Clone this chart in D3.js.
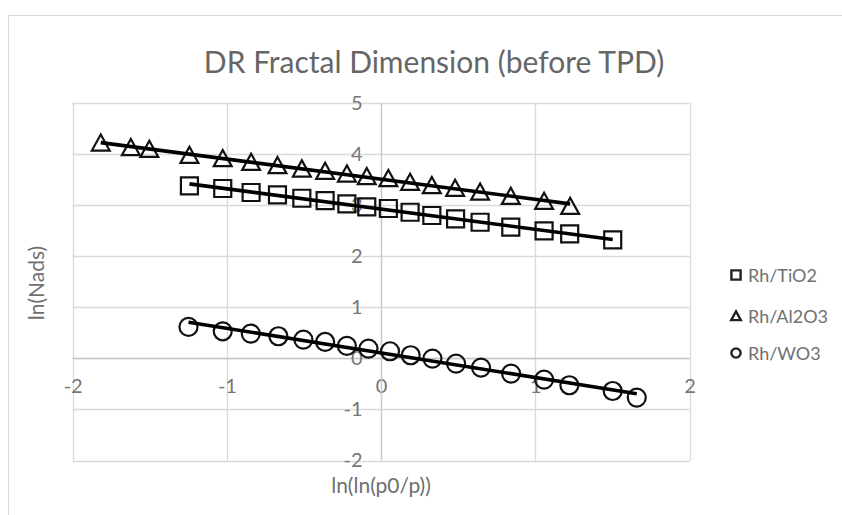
<!DOCTYPE html>
<html>
<head>
<meta charset="utf-8">
<script src="https://cdn.jsdelivr.net/npm/d3@7/dist/d3.min.js"></script>
<style>
  html, body { margin: 0; padding: 0; background: #fff; }
  svg { display: block; }
  text { font-family: Lato, "Open Sans", "Noto Sans", sans-serif; }
</style>
</head>
<body>
<script>
// ln(ln(p0/p)) vs ln(Nads) for each catalyst
const tio2X = [-1.243, -1.027, -0.843, -0.672, -0.514, -0.363, -0.222, -0.093, 0.047, 0.188, 0.329, 0.483, 0.642, 0.841, 1.057, 1.223, 1.502];
const tio2Y = [3.372, 3.321, 3.243, 3.196, 3.131, 3.086, 3.020, 2.961, 2.930, 2.857, 2.793, 2.726, 2.661, 2.564, 2.491, 2.432, 2.315];

const al2o3X = [-1.818, -1.623, -1.503, -1.243, -1.027, -0.843, -0.672, -0.514, -0.363, -0.222, -0.093, 0.047, 0.188, 0.329, 0.480, 0.642, 0.841, 1.057, 1.226];
const al2o3Y = [4.213, 4.123, 4.090, 3.973, 3.908, 3.836, 3.771, 3.705, 3.659, 3.607, 3.556, 3.517, 3.444, 3.380, 3.327, 3.254, 3.170, 3.072, 2.975];

const wo3X = [-1.249, -1.027, -0.845, -0.666, -0.504, -0.363, -0.222, -0.082, 0.058, 0.192, 0.333, 0.486, 0.648, 0.843, 1.057, 1.221, 1.502, 1.658];
const wo3Y = [0.613, 0.528, 0.483, 0.431, 0.366, 0.319, 0.241, 0.190, 0.137, 0.059, -0.006, -0.104, -0.182, -0.299, -0.417, -0.528, -0.640, -0.769];

const seriesNames = ["Rh/TiO2", "Rh/Al2O3", "Rh/WO3"];
const seriesShapes = ["square", "triangle", "circle"];
const xTicks = [-2, -1, 0, 1, 2];
const yTicks = [-2, -1, 0, 1, 2, 3, 4, 5];

const chartTitle = "DR Fractal Dimension (before TPD)";
const xTitle = "ln(ln(p0/p))";
const yTitle = "ln(Nads)";

const series = [
  { name: seriesNames[0], shape: seriesShapes[0], xs: tio2X, ys: tio2Y },
  { name: seriesNames[1], shape: seriesShapes[1], xs: al2o3X, ys: al2o3Y },
  { name: seriesNames[2], shape: seriesShapes[2], xs: wo3X, ys: wo3Y }
];

const W = 842, H = 515;
const svg = d3.select("body").append("svg").attr("width", W).attr("height", H);

// chart frame
svg.append("rect").attr("x", 8.5).attr("y", 15.5).attr("width", W).attr("height", H)
  .attr("fill", "#fff").attr("stroke", "#d9d9d9").attr("stroke-width", 1);

const x = d3.scaleLinear().domain([-2, 2]).range([72.7, 689.5]);
const y = d3.scaleLinear().domain([-2, 5]).range([460.5, 102.7]);

// gridlines
const grid = svg.append("g");
grid.selectAll("line.v").data(xTicks).join("line")
  .attr("x1", d => Math.round(x(d)) + 0.5).attr("x2", d => Math.round(x(d)) + 0.5)
  .attr("y1", y(5)).attr("y2", y(-2))
  .attr("stroke", "#d9d9d9").attr("stroke-width", 1.3);
grid.selectAll("line.h").data(yTicks).join("line")
  .attr("x1", x(-2)).attr("x2", x(2))
  .attr("y1", d => Math.round(y(d)) + 0.5).attr("y2", d => Math.round(y(d)) + 0.5)
  .attr("stroke", "#d9d9d9").attr("stroke-width", 1.3);

// axes crossing at the origin
const fmt = d => String(d);
const xAxis = svg.append("g")
  .attr("transform", `translate(0,${Math.round(y(0)) + 0.5})`)
  .call(d3.axisBottom(x).tickValues(xTicks).tickSize(0).tickPadding(20).tickFormat(fmt));
const yAxis = svg.append("g")
  .attr("transform", `translate(${Math.round(x(0)) + 0.5},0)`)
  .call(d3.axisLeft(y).tickValues(yTicks).tickSize(0).tickPadding(19).tickFormat(fmt));
[xAxis, yAxis].forEach(a => {
  a.select(".domain").attr("stroke", "#c8c8c8").attr("stroke-width", 1.3);
  a.selectAll("text").attr("fill", "#767676").style("font-size", "20px")
    .style("font-family", "Lato, 'Open Sans', sans-serif");
});
xAxis.select(".domain").attr("d", `M${x(-2)},0H${x(2)}`);
yAxis.select(".domain").attr("d", `M0,${y(-2)}V${y(5)}`);

// marker shapes
function markerPath(shape, s) {
  if (shape === "square") return `M${-s},${-s}H${s}V${s}H${-s}Z`;
  return `M0,${-s}L${s * 1.05},${s * 0.9}H${-s * 1.05}Z`;
}

const plot = svg.append("g");
series.forEach(sr => {
  const pts = sr.xs.map((v, i) => [v, sr.ys[i]]);
  if (sr.shape === "circle") {
    plot.append("g").selectAll("circle").data(pts).join("circle")
      .attr("cx", d => x(d[0])).attr("cy", d => y(d[1])).attr("r", 9)
      .attr("fill", "none").attr("stroke", "#111").attr("stroke-width", 2.2);
  } else {
    plot.append("g").selectAll("path").data(pts).join("path")
      .attr("transform", d => `translate(${x(d[0])},${y(d[1])})`)
      .attr("d", markerPath(sr.shape, 8.5))
      .attr("fill", "none").attr("stroke", "#111").attr("stroke-width", 2.2);
  }
});

// linear trendlines (least squares over each series)
series.forEach(sr => {
  const n = sr.xs.length;
  const mx = d3.mean(sr.xs), my = d3.mean(sr.ys);
  let sxy = 0, sxx = 0;
  for (let i = 0; i < n; i++) { sxy += (sr.xs[i] - mx) * (sr.ys[i] - my); sxx += (sr.xs[i] - mx) ** 2; }
  const m = sxy / sxx, b = my - m * mx;
  const x0 = d3.min(sr.xs), x1 = d3.max(sr.xs);
  plot.append("line")
    .attr("x1", x(x0)).attr("y1", y(m * x0 + b))
    .attr("x2", x(x1)).attr("y2", y(m * x1 + b))
    .attr("stroke", "#000").attr("stroke-width", 3.6);
});

// titles
svg.append("text").attr("x", 434).attr("y", 61).attr("text-anchor", "middle")
  .attr("dominant-baseline", "central").attr("fill", "#666").style("font-size", "30px")
  .text(chartTitle);
svg.append("text").attr("x", 381).attr("y", 484).attr("text-anchor", "middle")
  .attr("dominant-baseline", "central").attr("fill", "#6f6f6f").style("font-size", "21px")
  .text(xTitle);
svg.append("text").attr("transform", "translate(35,283) rotate(-90)").attr("text-anchor", "middle")
  .attr("dominant-baseline", "central").attr("fill", "#6f6f6f").style("font-size", "21px")
  .text(yTitle);

// legend
const legendY = [275, 316, 353];
const lg = svg.append("g");
series.forEach((sr, i) => {
  const g = lg.append("g").attr("transform", `translate(736,${legendY[i]})`);
  if (sr.shape === "circle") {
    g.append("circle").attr("r", 4.6).attr("fill", "none").attr("stroke", "#222").attr("stroke-width", 2.4);
  } else {
    g.append("path").attr("d", markerPath(sr.shape, 4.6)).attr("fill", "none")
      .attr("stroke", "#222").attr("stroke-width", 2.4);
  }
  g.append("text").attr("x", 12).attr("dominant-baseline", "central")
    .attr("fill", "#707070").style("font-size", "18px").text(sr.name);
});
</script>
</body>
</html>
